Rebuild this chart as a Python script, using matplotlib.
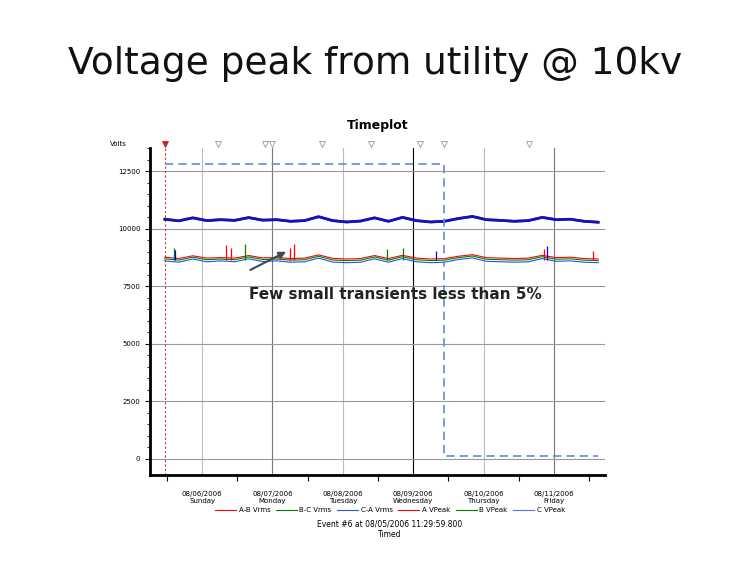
import numpy as np
import matplotlib.pyplot as plt
from matplotlib.lines import Line2D

# time in days of August 2006, readings every ~0.2 day
t = np.linspace(5.47, 11.63, 32)
a_vpeak = [10420, 10350, 10480, 10360, 10400, 10370, 10490, 10380, 10400, 10330, 10360, 10530, 10360, 10300, 10340, 10480,
           10330, 10500, 10360, 10300, 10330, 10450, 10540, 10400, 10370, 10330, 10360, 10500, 10400, 10420, 10330, 10290]
b_vpeak = [10400, 10330, 10460, 10340, 10380, 10350, 10470, 10360, 10380, 10310, 10340, 10510, 10340, 10280, 10320, 10460,
           10310, 10480, 10340, 10280, 10310, 10430, 10520, 10380, 10350, 10310, 10340, 10480, 10380, 10400, 10310, 10270]
c_vpeak = [10410, 10340, 10470, 10350, 10390, 10360, 10480, 10370, 10390, 10320, 10350, 10520, 10350, 10290, 10330, 10470,
           10320, 10490, 10350, 10290, 10320, 10440, 10530, 10390, 10360, 10320, 10350, 10490, 10390, 10410, 10320, 10280]
ab_vrms = [8760, 8700, 8820, 8720, 8740, 8720, 8830, 8730, 8740, 8700, 8720, 8860, 8710, 8680, 8700, 8830,
           8700, 8840, 8720, 8680, 8700, 8800, 8870, 8740, 8720, 8700, 8720, 8840, 8740, 8760, 8700, 8680]
bc_vrms = [8690, 8630, 8760, 8650, 8680, 8650, 8770, 8660, 8680, 8630, 8650, 8800, 8640, 8610, 8630, 8770,
           8630, 8780, 8650, 8610, 8630, 8740, 8810, 8670, 8650, 8630, 8650, 8780, 8670, 8690, 8630, 8610]
ca_vrms = [8600, 8540, 8680, 8560, 8600, 8560, 8690, 8570, 8600, 8540, 8560, 8720, 8550, 8520, 8540, 8690,
           8540, 8700, 8560, 8520, 8540, 8660, 8730, 8580, 8560, 8540, 8560, 8700, 8580, 8600, 8540, 8520]
# transients: day, top value, colour
spike_t = [5.6, 5.62, 6.34, 6.41, 6.61, 7.25, 7.3, 8.63, 8.86, 9.32, 10.86, 10.9, 11.55]
spike_v = [9150, 9080, 9270, 9180, 9350, 9170, 9330, 9110, 9180, 9030, 9120, 9230, 9050]
spike_c = ['green', 'blue', 'red', 'red', 'green', 'red', 'red', 'green', 'green', 'blue', 'red', 'blue', 'red']
step_t = [5.47, 9.44, 9.44, 11.63]
step_v = [12800, 12800, 100, 100]
event_t = [5.47, 6.22, 6.9, 7.0, 7.7, 8.4, 9.1, 9.44, 10.65]
days = [6, 7, 8, 9, 10, 11]
day_lbl = ['08/06/2006\nSunday', '08/07/2006\nMonday', '08/08/2006\nTuesday',
           '08/09/2006\nWednesday', '08/10/2006\nThursday', '08/11/2006\nFriday']
legend_names = ['A-B Vrms', 'B-C Vrms', 'C-A Vrms', 'A VPeak', 'B VPeak', 'C VPeak']

fig = plt.figure(figsize=(7.5, 5.72), dpi=100)
fig.text(0.5, 0.87, 'Voltage peak from utility @ 10kv', ha='center', fontsize=27, color='#111111')
ax = fig.add_axes([0.2, 0.17, 0.607, 0.571])
ax.set_xlim(5.26, 11.73)
ax.set_ylim(-700, 13500)

for d in days:
    ax.axvline(d, color='black' if d == 9 else ('#bbbbbb' if d % 2 == 0 else '#777777'), lw=0.8, zorder=0)
for y in [0, 2500, 5000, 7500, 10000, 12500]:
    ax.axhline(y, color='#999999', lw=0.8, zorder=0)
ax.axvline(5.47, color='#cc3333', ls=(0, (2, 2)), lw=0.8)

ax.plot(t, ab_vrms, color='red', lw=0.8)
ax.plot(t, bc_vrms, color='green', lw=0.8)
ax.plot(t, ca_vrms, color='#2255dd', lw=0.8)
ax.vlines(spike_t, 8650, spike_v, colors=spike_c, lw=0.9)
ax.plot(t, a_vpeak, color='red', lw=1.5)
ax.plot(t, b_vpeak, color='green', lw=1.5)
ax.plot(t, c_vpeak, color='#1111cc', lw=2)
ax.plot(step_t, step_v, color='#6688dd', ls=(0, (5, 3)), lw=1.2)

for i, e in enumerate(event_t):
    ax.plot(e, 13680, marker='v', ms=5, mfc='#cc2222' if i == 0 else 'white',
            mec='#cc2222' if i == 0 else '#999999', mew=0.6, clip_on=False)
ax.text(-0.07, 13680, 'Volts', transform=ax.get_yaxis_transform(), fontsize=5, ha='center', va='center')

ax.text(6.66, 7130, 'Few small transients less than 5%', fontsize=11, fontweight='bold',
        ha='left', va='center', color='#222222')
ax.annotate('', xy=(7.23, 9050), xytext=(6.65, 8150),
            arrowprops=dict(arrowstyle='-|>', color='#404858', lw=1.5))

ax.set_yticks([0, 2500, 5000, 7500, 10000, 12500])
ax.set_yticks(np.arange(0, 13501, 500), minor=True)
ax.tick_params(axis='y', labelsize=5)
ax.set_xticks([d + 0.5 for d in range(5, 12)])
ax.set_xticklabels([])
ax.set_xticks(days, minor=True)
ax.set_xticklabels(day_lbl, minor=True, fontsize=5)
ax.tick_params(axis='x', which='minor', length=0, pad=12)
ax.tick_params(axis='x', which='major', length=4)
for s in ['top', 'right']:
    ax.spines[s].set_visible(False)
ax.spines['left'].set_linewidth(2)
ax.spines['bottom'].set_linewidth(2)
ax.set_title('Timeplot', fontsize=9, fontweight='bold', pad=14)

hs = [Line2D([], [], color=c, lw=0.8) for c in ['red', 'green', '#2255dd', 'red', 'green', '#5577dd']]
fig.legend(hs, legend_names, loc='center', bbox_to_anchor=(0.52, 0.108), ncol=6, fontsize=5,
           frameon=False, handlelength=3, columnspacing=0.8, handletextpad=0.4)
fig.text(0.52, 0.075, 'Event #6 at 08/05/2006 11:29:59.800\nTimed', ha='center', va='center', fontsize=5.5)

fig.savefig('out.png', dpi=100)
